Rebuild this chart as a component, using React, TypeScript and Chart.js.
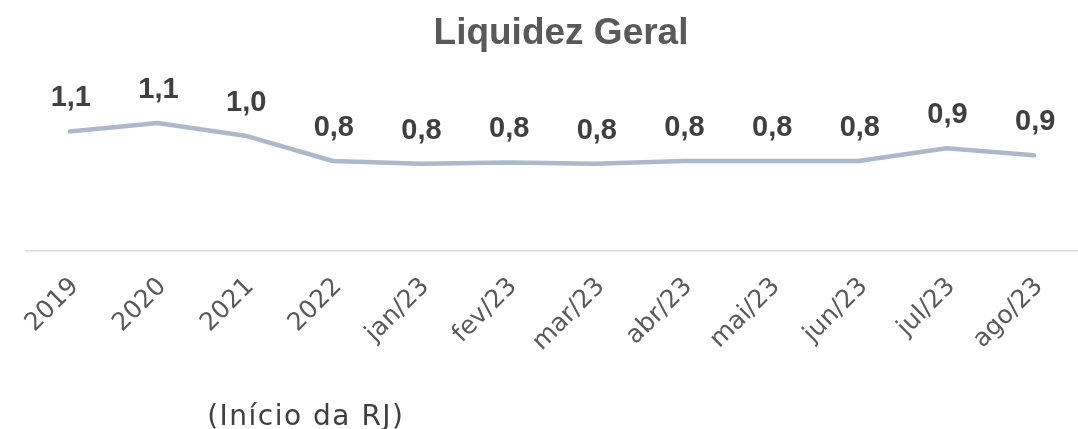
import React, { useEffect, useRef } from "react";
import { Chart, registerables } from "chart.js";

Chart.register(...registerables);

const categories = ["2019", "2020", "2021", "2022", "jan/23", "fev/23", "mar/23", "abr/23", "mai/23", "jun/23", "jul/23", "ago/23"];
const liquidezGeral = [1.05, 1.11, 1.02, 0.84, 0.82, 0.83, 0.82, 0.84, 0.84, 0.84, 0.93, 0.88];
const titleText = "Liquidez Geral";
const annotationText = "(Início da RJ)";
const annotationIndex = 3;

const fmt = (v: number) => v.toFixed(1).replace(".", ",");

const overlayPlugin = {
  id: "overlay",
  afterDatasetsDraw(chart: any) {
    const ctx = chart.ctx;
    const meta = chart.getDatasetMeta(0);
    ctx.save();
    ctx.fillStyle = "#404040";
    ctx.font = "bold 29px 'Liberation Sans', Arial, sans-serif";
    ctx.textAlign = "center";
    ctx.textBaseline = "alphabetic";
    meta.data.forEach((pt: any, i: number) => {
      ctx.fillText(fmt(liquidezGeral[i]), pt.x + 1, pt.y - 25);
    });
    // title
    ctx.fillStyle = "#595959";
    ctx.font = "bold 37px 'Liberation Sans', Arial, sans-serif";
    ctx.fillText(titleText, 561, 44);
    // annotation
    const xs = chart.scales.x;
    ctx.fillStyle = "#404040";
    ctx.font = "28px 'DejaVu Sans', sans-serif";
    (ctx as any).letterSpacing = "1.5px";
    ctx.fillText(annotationText, xs.getPixelForValue(annotationIndex) - 27, 425);
    ctx.restore();
  },
};

export default function App() {
  const ref = useRef<HTMLCanvasElement | null>(null);
  useEffect(() => {
    document.body.style.margin = "0";
    if (!ref.current) return;
    const chart = new Chart(ref.current, {
      type: "line",
      data: {
        labels: categories,
        datasets: [
          {
            data: liquidezGeral,
            borderColor: "#adb9ca",
            borderWidth: 4.5,
            borderCapStyle: "round",
            borderJoinStyle: "round",
            pointRadius: 0,
            tension: 0,
            fill: false,
          },
        ],
      },
      options: {
        animation: false,
        responsive: false,
        devicePixelRatio: 1,
        layout: { padding: { left: 26, right: -6, top: 40, bottom: 0 } },
        plugins: { legend: { display: false }, title: { display: false }, tooltip: { enabled: false } },
        scales: {
          x: {
            type: "category",
            offset: true,
            grid: { display: false, drawTicks: false },
            border: { display: true, color: "#d9d9d9", width: 1.5 },
            ticks: {
              color: "#595959",
              font: { family: "'DejaVu Sans', sans-serif", size: 25 },
              minRotation: 45,
              maxRotation: 45,
              padding: 21,
              labelOffset: 5,
              autoSkip: false,
            },
            afterFit(scale: any) {
              scale.height = 178;
            },
          },
          y: { display: false, min: 0.2, max: 1.7 },
        },
      },
      plugins: [overlayPlugin],
    });
    return () => chart.destroy();
  }, []);
  return (
    <div style={{ width: 1078, height: 429 }}>
      <canvas ref={ref} width={1078} height={429} />
    </div>
  );
}
